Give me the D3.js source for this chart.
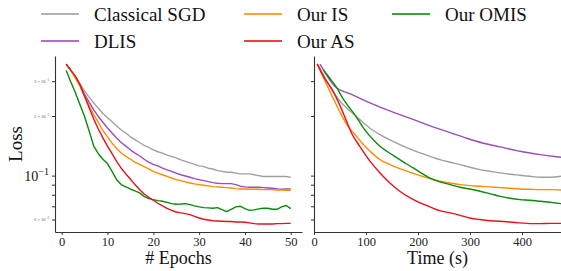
<!DOCTYPE html>
<html>
<head>
<meta charset="utf-8">
<script src="https://cdn.jsdelivr.net/npm/d3@7"></script>
<style>
  html, body { margin: 0; padding: 0; background: #fff; }
  text { font-family: "Liberation Serif", "Times New Roman", serif; }
</style>
</head>
<body>
<svg id="chart" width="561" height="271"></svg>
<script>
// ---------------- data ----------------
const seriesNames = ["Classical SGD", "DLIS", "Our IS", "Our AS", "Our OMIS"];
const seriesColors = ["#a0a0a0", "#9b4dba", "#ff8c00", "#e8101a", "#0a8a0a"];

const epochs = [1,2,3,4,5,6,7,8,9,10,11,12,13,14,15,16,17,18,19,20,21,22,23,24,25,
  26,27,28,29,30,31,32,33,34,35,36,37,38,39,40,41,42,43,44,45,46,47,48,49,50];

const epochSGD = [0.366,0.340,0.315,0.290,0.267,0.249,0.233,0.219,0.206,0.196,0.187,0.178,0.170,0.164,0.157,0.152,0.147,0.142,0.139,0.135,0.132,0.130,0.127,0.125,0.123,0.120,0.118,0.116,0.114,0.112,0.111,0.109,0.108,0.106,0.105,0.104,0.104,0.103,0.102,0.102,0.102,0.101,0.100,0.099,0.099,0.099,0.099,0.099,0.099,0.098];
const epochDLIS = [0.366,0.340,0.315,0.288,0.257,0.235,0.215,0.199,0.186,0.174,0.164,0.155,0.147,0.141,0.135,0.130,0.126,0.121,0.117,0.114,0.112,0.109,0.107,0.105,0.103,0.101,0.0996,0.0981,0.0966,0.0954,0.0943,0.0933,0.0922,0.0915,0.0911,0.0911,0.0911,0.0901,0.0884,0.0877,0.0873,0.0873,0.0873,0.0870,0.0866,0.0863,0.0856,0.0853,0.0856,0.0856];
const epochIS = [0.366,0.340,0.311,0.283,0.252,0.226,0.203,0.186,0.169,0.157,0.146,0.137,0.130,0.125,0.121,0.117,0.114,0.111,0.108,0.105,0.103,0.101,0.0992,0.0973,0.0954,0.0943,0.0929,0.0918,0.0908,0.0901,0.0894,0.0887,0.0880,0.0877,0.0873,0.0870,0.0866,0.0860,0.0856,0.0856,0.0853,0.0853,0.0853,0.0850,0.0850,0.0850,0.0846,0.0846,0.0843,0.0843];
const epochAS = [0.366,0.340,0.318,0.288,0.252,0.220,0.193,0.172,0.155,0.141,0.129,0.118,0.109,0.102,0.0962,0.0901,0.0850,0.0808,0.0777,0.0751,0.0725,0.0703,0.0684,0.0668,0.0655,0.0648,0.0643,0.0635,0.0623,0.0611,0.0602,0.0597,0.0592,0.0590,0.0588,0.0586,0.0586,0.0583,0.0583,0.0581,0.0577,0.0572,0.0570,0.0570,0.0570,0.0570,0.0572,0.0572,0.0574,0.0574];
const epochOMIS = [0.340,0.297,0.262,0.228,0.199,0.168,0.141,0.129,0.121,0.115,0.105,0.0954,0.0901,0.0877,0.0856,0.0837,0.0818,0.0786,0.0765,0.0756,0.0748,0.0742,0.0733,0.0722,0.0717,0.0719,0.0722,0.0714,0.0703,0.0695,0.0689,0.0687,0.0684,0.0689,0.0674,0.0658,0.0676,0.0695,0.0700,0.0681,0.0668,0.0671,0.0679,0.0684,0.0684,0.0676,0.0676,0.0695,0.0706,0.0681];

const timeSGD = [6.3,20,31,50,70,88,107,127,146,165,185,204,223,242,262,281,300,319,338,358,377,396,415,435,454,475];
const lossTimeSGD = [0.366,0.3175,0.2804,0.2374,0.2113,0.1918,0.1741,0.1611,0.1514,0.1434,0.1363,0.1302,0.1252,0.1205,0.1168,0.1137,0.1102,0.1072,0.1052,0.1032,0.1016,0.1004,0.0992,0.0981,0.0981,0.0992];
const timeDLIS = [11.5,40,70,101,133,165,197,229,262,294,326,358,396,435,475];
const lossTimeDLIS = [0.366,0.283,0.2585,0.2374,0.2188,0.2032,0.1896,0.1761,0.1649,0.1544,0.1457,0.1396,0.1327,0.1277,0.1238];
const timeIS = [6.3,20,35,50,62,72,79,88,98,108,117,127,146,165,185,204,223,242,262,281,300,319,338,358,377,396,415,435,454,475];
const lossTimeIS = [0.366,0.3053,0.2515,0.2089,0.1830,0.1688,0.1611,0.1508,0.1406,0.1327,0.1262,0.1205,0.1137,0.1085,0.1039,0.1000,0.0966,0.0936,0.0918,0.0901,0.0890,0.0884,0.0877,0.0870,0.0863,0.0856,0.0853,0.0850,0.0850,0.0846];
const timeAS = [6.3,20,35,50,60,72,88,108,127,146,165,185,204,223,242,262,281,300,319,338,358,377,396,415,435,454,475];
const lossTimeAS = [0.366,0.3113,0.2719,0.2257,0.1955,0.1642,0.1406,0.1181,0.1032,0.0918,0.0834,0.0771,0.0728,0.0695,0.0665,0.0648,0.0630,0.0611,0.0600,0.0592,0.0588,0.0583,0.0577,0.0572,0.0572,0.0574,0.0574];
const timeOMIS = [18,30,44,56,66,76,86,95,105,114,127,140,153,165,178,191,204,217,230,242,262,281,300,319,338,358,377,396,415,435,454,475];
const lossTimeOMIS = [0.343,0.3113,0.2772,0.2439,0.2240,0.2073,0.1896,0.1741,0.1611,0.1520,0.1406,0.1327,0.1262,0.1205,0.1145,0.1093,0.1039,0.0992,0.0954,0.0929,0.0901,0.0873,0.0856,0.0834,0.0811,0.0786,0.0768,0.0756,0.0751,0.0742,0.0733,0.0722];

const epochTicks = [0,10,20,30,40,50];
const timeTicks = [0,100,200,300,400];
const yTicks = [0.06,0.07,0.08,0.09,0.1,0.2,0.3];
const yTickLabels = {0.06: ["6 \u00d7 10", "\u22122"], 0.2: ["2 \u00d7 10", "\u22121"], 0.3: ["3 \u00d7 10", "\u22121"]};

// ---------------- layout ----------------
const svg = d3.select("#chart");
const plotTop = 56, plotBottom = 232;
const y = d3.scaleLog().domain([0.0519, 0.402]).range([plotBottom, plotTop]);
const xL = d3.scaleLinear().domain([-1.45, 52.45]).range([55, 302]);
const xR = d3.scaleLinear().domain([0, 475]).range([314, 561]);
const axisColor = "#333";

const defs = svg.append("defs");
defs.append("clipPath").attr("id", "clipR")
  .append("rect").attr("x", 314).attr("y", plotTop - 5).attr("width", 247).attr("height", plotBottom - plotTop + 5);
defs.append("clipPath").attr("id", "clipL")
  .append("rect").attr("x", 55).attr("y", plotTop - 5).attr("width", 247).attr("height", plotBottom - plotTop + 5);

function drawAxes(x, ticks, showLabels) {
  const xr = x.range();
  const gx = svg.append("g").attr("transform", `translate(0,${plotBottom})`)
    .call(d3.axisBottom(x).tickValues(ticks).tickSize(3).tickSizeOuter(0).tickPadding(2));
  gx.select(".domain").attr("stroke", axisColor).attr("stroke-width", 1.1);
  gx.selectAll(".tick line").attr("stroke", axisColor).attr("stroke-width", 1);
  gx.selectAll(".tick text").attr("font-family", "Liberation Serif").attr("font-size", 12.5).attr("fill", "#222");

  const gy = svg.append("g").attr("transform", `translate(${xr[0]},0)`)
    .call(d3.axisLeft(y).tickValues(yTicks).tickSize(3).tickSizeOuter(0).tickFormat(""));
  gy.select(".domain").attr("stroke", axisColor).attr("stroke-width", 1.1);
  gy.selectAll(".tick line").attr("stroke", axisColor).attr("stroke-width", 1);

  if (showLabels) {
    const t = svg.append("text").attr("x", xr[0] - 6).attr("y", y(0.1) + 5)
      .attr("text-anchor", "end").attr("font-size", 14).attr("fill", "#111");
    t.append("tspan").text("10");
    t.append("tspan").attr("dy", -6).attr("font-size", 10).text("\u22121");
    Object.keys(yTickLabels).forEach(k => {
      const v = +k, parts = yTickLabels[k];
      const s = svg.append("text").attr("x", xr[0] - 6).attr("y", y(v) + 1.5)
        .attr("text-anchor", "end").attr("font-size", 4.5).attr("fill", "#555");
      s.append("tspan").text(parts[0]);
      s.append("tspan").attr("dy", -1.8).attr("font-size", 3.2).text(parts[1]);
    });
  }
}

drawAxes(xL, epochTicks, true);
drawAxes(xR, timeTicks, false);

// ---------------- lines ----------------
const epochSeries = [epochSGD, epochDLIS, epochIS, epochOMIS, epochAS];
const timeSeries = [[timeSGD, lossTimeSGD], [timeDLIS, lossTimeDLIS], [timeIS, lossTimeIS], [timeOMIS, lossTimeOMIS], [timeAS, lossTimeAS]];
const drawOrder = [0, 1, 2, 4, 3];
const lineColors = drawOrder.map(i => seriesColors[i]);

const gL = svg.append("g").attr("clip-path", "url(#clipL)");
epochSeries.forEach((vals, i) => {
  const line = d3.line().x((d, j) => xL(epochs[j])).y(d => y(d));
  gL.append("path").datum(vals).attr("d", line).attr("fill", "none")
    .attr("stroke", lineColors[i]).attr("stroke-width", 1.4).attr("stroke-linejoin", "round");
});

const gR = svg.append("g").attr("clip-path", "url(#clipR)");
timeSeries.forEach(([ts, vals], i) => {
  const line = d3.line().curve(d3.curveMonotoneX).x((d, j) => xR(ts[j])).y(d => y(d));
  gR.append("path").datum(vals).attr("d", line).attr("fill", "none")
    .attr("stroke", lineColors[i]).attr("stroke-width", 1.4).attr("stroke-linejoin", "round");
});

// ---------------- titles ----------------
svg.append("text").attr("x", (55 + 302) / 2).attr("y", 264).attr("text-anchor", "middle")
  .attr("font-size", 18).attr("fill", "#111").text("# Epochs");
svg.append("text").attr("x", (314 + 561) / 2).attr("y", 264).attr("text-anchor", "middle")
  .attr("font-size", 18).attr("fill", "#111").text("Time (s)");
svg.append("text").attr("transform", `translate(22,${(plotTop + plotBottom) / 2}) rotate(-90)`)
  .attr("text-anchor", "middle").attr("font-size", 19).attr("fill", "#111").text("Loss");

// ---------------- legend ----------------
const legendPos = [
  {x: 41, y: 14}, {x: 41, y: 41},
  {x: 244, y: 14}, {x: 244, y: 41},
  {x: 392, y: 14}
];
seriesNames.forEach((name, k) => {
  const p = legendPos[k];
  svg.append("line").attr("x1", p.x).attr("x2", p.x + 38).attr("y1", p.y).attr("y2", p.y)
    .attr("stroke", seriesColors[k]).attr("stroke-width", 2).attr("stroke-opacity", 0.8);
  svg.append("text").attr("x", p.x + 53).attr("y", p.y + 7).attr("font-size", 19)
    .attr("fill", "#111").text(name);
});
</script>
</body>
</html>
